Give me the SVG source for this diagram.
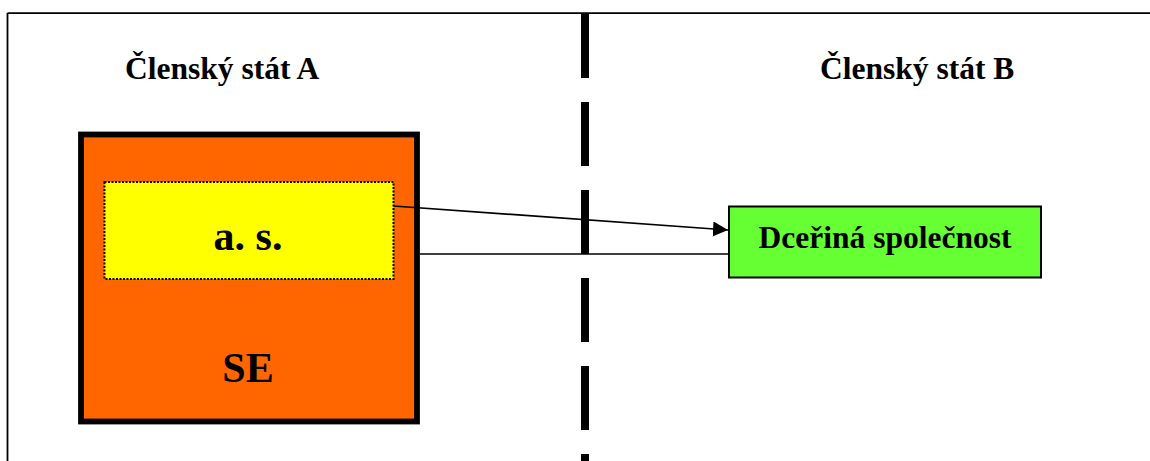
<svg xmlns="http://www.w3.org/2000/svg" width="1150" height="461" viewBox="0 0 1150 461">
<style>
.t{font-family:"Liberation Serif","Times New Roman",serif;font-weight:bold;fill:#000}
.c{stroke:#000;stroke-width:1.7;fill:none}
</style>
<defs>
<marker id="ah" markerUnits="userSpaceOnUse" markerWidth="16" markerHeight="16" refX="15" refY="7.5" orient="auto">
<path d="M0,0 L15,7.5 L0,15 Z" fill="#000"/>
</marker>
</defs>
<rect width="1150" height="461" fill="#fff"/>
<g id="frame">
<line x1="7.5" y1="13.2" x2="1150" y2="13.2" stroke="#000" stroke-width="1.8"/>
<line x1="7.5" y1="13" x2="7.5" y2="461" stroke="#000" stroke-width="1.8"/>
</g>
<g id="divider">
<line x1="585" y1="14" x2="585" y2="461" stroke="#000" stroke-width="8" stroke-dasharray="64 24"/>
</g>
<g id="label-a"><text class="t" x="125" y="79" font-size="31.5">Členský stát A</text></g>
<g id="label-b"><text class="t" x="820" y="79" font-size="31.5">Členský stát B</text></g>
<g id="se">
<rect x="81" y="134.5" width="336" height="287" fill="#FF6600" stroke="#000" stroke-width="5.8"/>
<text class="t" x="248" y="381.5" font-size="42" text-anchor="middle">SE</text>
</g>
<g id="as">
<rect x="104.5" y="182" width="289" height="97" fill="#FFFF00" stroke="#000" stroke-width="2" stroke-dasharray="2 1.5"/>
<text class="t" x="248" y="250" font-size="42" text-anchor="middle">a. s.</text>
</g>
<g id="dcerina">
<rect x="729" y="206.5" width="312" height="71" fill="#66FF33" stroke="#000" stroke-width="2"/>
<text class="t" x="885" y="248.3" font-size="31.5" text-anchor="middle">Dceřiná společnost</text>
</g>
<g id="connectors">
<line class="c" x1="393.5" y1="206" x2="728" y2="230" marker-end="url(#ah)"/>
<line class="c" x1="420" y1="254" x2="728" y2="254"/>
</g>
</svg>
